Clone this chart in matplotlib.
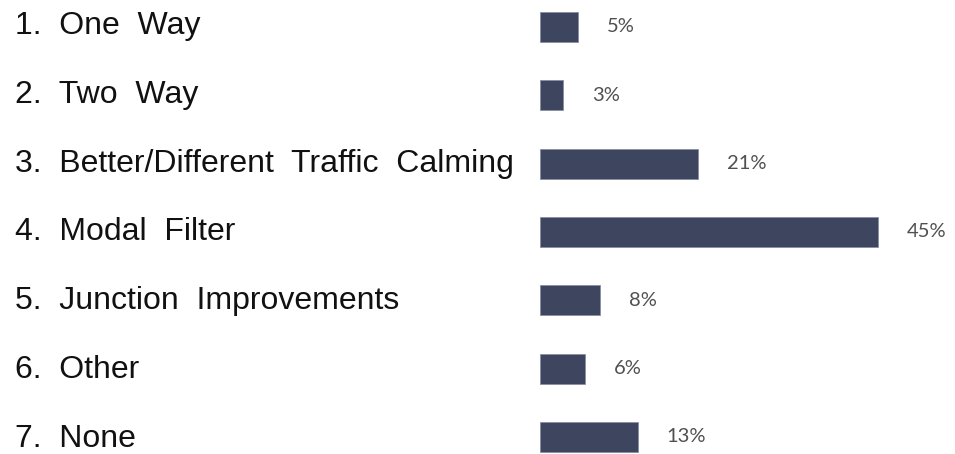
import matplotlib.pyplot as plt
from matplotlib.transforms import Affine2D

categories = [
    "1.  One  Way",
    "2.  Two  Way",
    "3.  Better/Different  Traffic  Calming",
    "4.  Modal  Filter",
    "5.  Junction  Improvements",
    "6.  Other",
    "7.  None",
]
values = [5, 3, 21, 45, 8, 6, 13]
value_labels = ["5%", "3%", "21%", "45%", "8%", "6%", "13%"]

BAR_COLOR = "#3d465e"

W, H = 955, 454
fig = plt.figure(figsize=(W / 100, H / 100), dpi=100)

# axes placed in pixel terms: bar origin at x=540, 45% ends at ~878
left_px, px_per_unit = 540, 338 / 45
xmax = 50
y_first, y_step = 27, 68.33
top_px = y_first - 0.5 * y_step
bot_px = y_first + 6.5 * y_step
ax = fig.add_axes([
    left_px / W,
    1 - bot_px / H,
    xmax * px_per_unit / W,
    (bot_px - top_px) / H,
])

ypos = list(range(len(categories)))
ax.barh(ypos, values, height=0.44, color=BAR_COLOR, edgecolor="#8890a4", linewidth=0.6)
ax.set_xlim(0, xmax)
ax.set_ylim(len(categories) - 0.5, -0.5)
ax.axis("off")

# category labels sit on their own slightly wider row pitch (pixel coords, top-down)
px_top = Affine2D().scale(1, -1).translate(0, H)
for i, cat in enumerate(categories):
    fig.text(15, 34 + 68.8 * i, cat, transform=px_top, ha="left", va="baseline",
             fontsize=23, family="Liberation Sans", color="#111111")

for y, v, lab in zip(ypos, values, value_labels):
    ax.annotate(lab, (v, y), xytext=(21, 0), textcoords="offset points",
                ha="left", va="center", fontsize=14.5, family="Lato",
                color="#505050", annotation_clip=False)

fig.savefig("out.png", dpi=100)
